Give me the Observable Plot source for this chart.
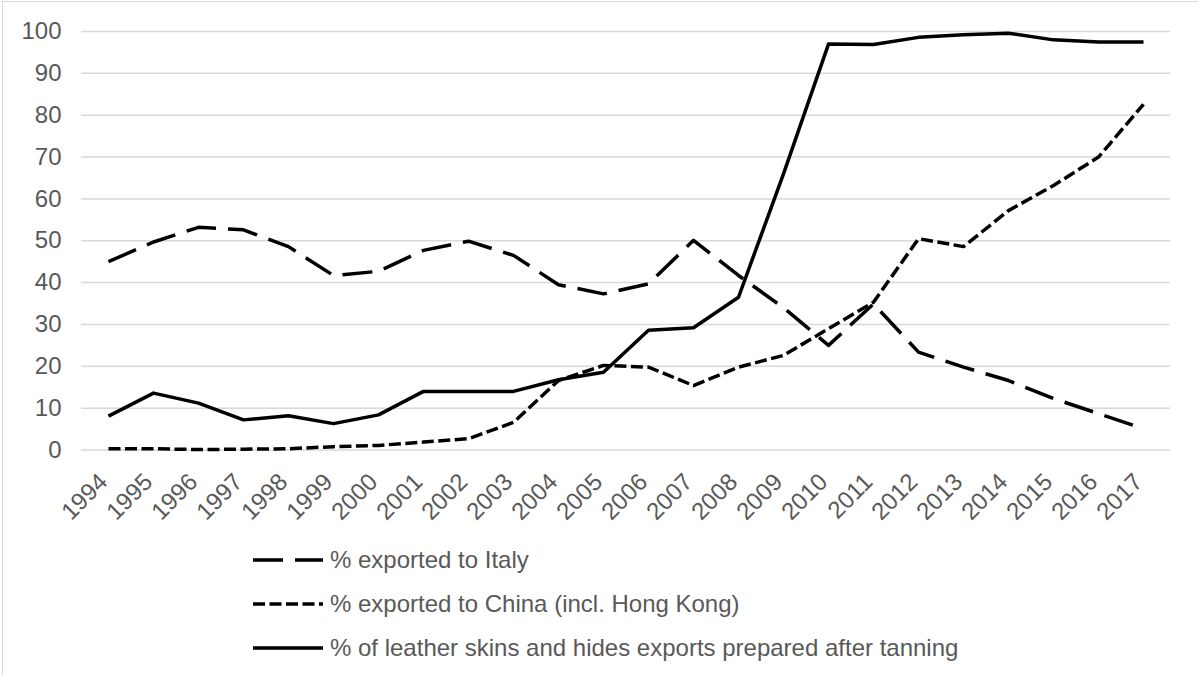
<!DOCTYPE html>
<html><head><meta charset="utf-8">
<script src="https://cdn.jsdelivr.net/npm/d3@7"></script>
<script src="https://cdn.jsdelivr.net/npm/@observablehq/plot@0.6"></script>
<style>
body{margin:0;background:#fff;font-family:"Liberation Sans",Arial,sans-serif;}
#wrap{position:relative;width:1198px;height:675px;overflow:hidden;background:#fff;}
#frame{position:absolute;left:2px;top:1px;right:-10px;bottom:-10px;border-left:1.5px solid #d9d9d9;border-top:1.5px solid #d9d9d9;pointer-events:none}
#chart{position:absolute;left:0;top:0;}
.legend{position:absolute;left:253px;top:538px;}
.row{display:flex;align-items:center;height:44px;font-size:24px;color:#595959;white-space:nowrap}
.row svg{margin-right:7px;flex:none}
</style>
</head><body>
<div id="wrap"><div id="chart"></div><div class="legend" id="legend"></div><div id="frame"></div></div>
<script>
const years = [1994,1995,1996,1997,1998,1999,2000,2001,2002,2003,2004,2005,2006,2007,2008,2009,2010,2011,2012,2013,2014,2015,2016,2017];
const italy = [45,49.7,53.2,52.6,48.6,41.7,42.7,47.7,49.9,46.5,39.5,37.3,39.7,50.1,41.7,34,25,34.9,23.4,19.8,16.6,12.3,8.7,5.1];
const china = [0.3,0.3,0.1,0.2,0.3,0.8,1.1,1.9,2.7,6.6,16.6,20.2,19.8,15.4,19.8,22.6,29,35.3,50.5,48.6,57.2,63.2,70,82.6];
const leather = [8.1,13.6,11.2,7.2,8.2,6.3,8.4,14,14,14,16.8,18.6,28.6,29.2,36.5,66,97,96.9,98.6,99.2,99.6,98,97.5,97.5];
const yTicks = [0,10,20,30,40,50,60,70,80,90,100];
const seriesNames = ["% exported to Italy","% exported to China (incl. Hong Kong)","% of leather skins and hides exports prepared after tanning"];
const dashes = ["30,12","12,4.5",null];

const seriesValues = [italy, china, leather];
const rows = seriesValues.map((vals, i) => years.map((yr, j) => ({year: yr, value: vals[j], series: seriesNames[i]})));

const chart = Plot.plot({
  width: 1198, height: 525,
  marginLeft: 81, marginRight: 28, marginTop: 31, marginBottom: 75.5,
  x: {type: "point", domain: years, padding: 0.5},
  y: {domain: [0, 100]},
  style: {fontFamily: '"Liberation Sans", Arial, sans-serif', fontSize: "24px", color: "#595959", background: "transparent"},
  marks: [
    Plot.gridY(yTicks, {stroke: "#d9d9d9", strokeOpacity: 1, strokeWidth: 1.5}),
    Plot.axisY(yTicks, {tickSize: 0, tickPadding: 20, fontSize: 24, fill: "#595959", label: null}),
    Plot.axisX(years, {tickSize: 0, tickRotate: -45, tickPadding: 28, dx: -5, fontSize: 24, fill: "#595959", label: null, tickFormat: d => String(d)}),
    ...rows.map((r, i) => Plot.line(r, {x: "year", y: "value", stroke: "#000", strokeWidth: 3.5, strokeDasharray: dashes[i], strokeLinejoin: "round", strokeLinecap: "butt"}))
  ]
});
document.getElementById("chart").appendChild(chart);

const leg = document.getElementById("legend");
seriesNames.forEach((name, i) => {
  const row = document.createElement("div");
  row.className = "row";
  const d = dashes[i] ? ` stroke-dasharray="${dashes[i]}"` : "";
  row.innerHTML = `<svg width="70" height="10"><line x1="0" x2="70" y1="5" y2="5" stroke="#000" stroke-width="3.5"${d}/></svg><span>${name}</span>`;
  leg.appendChild(row);
});
</script>
</body></html>
